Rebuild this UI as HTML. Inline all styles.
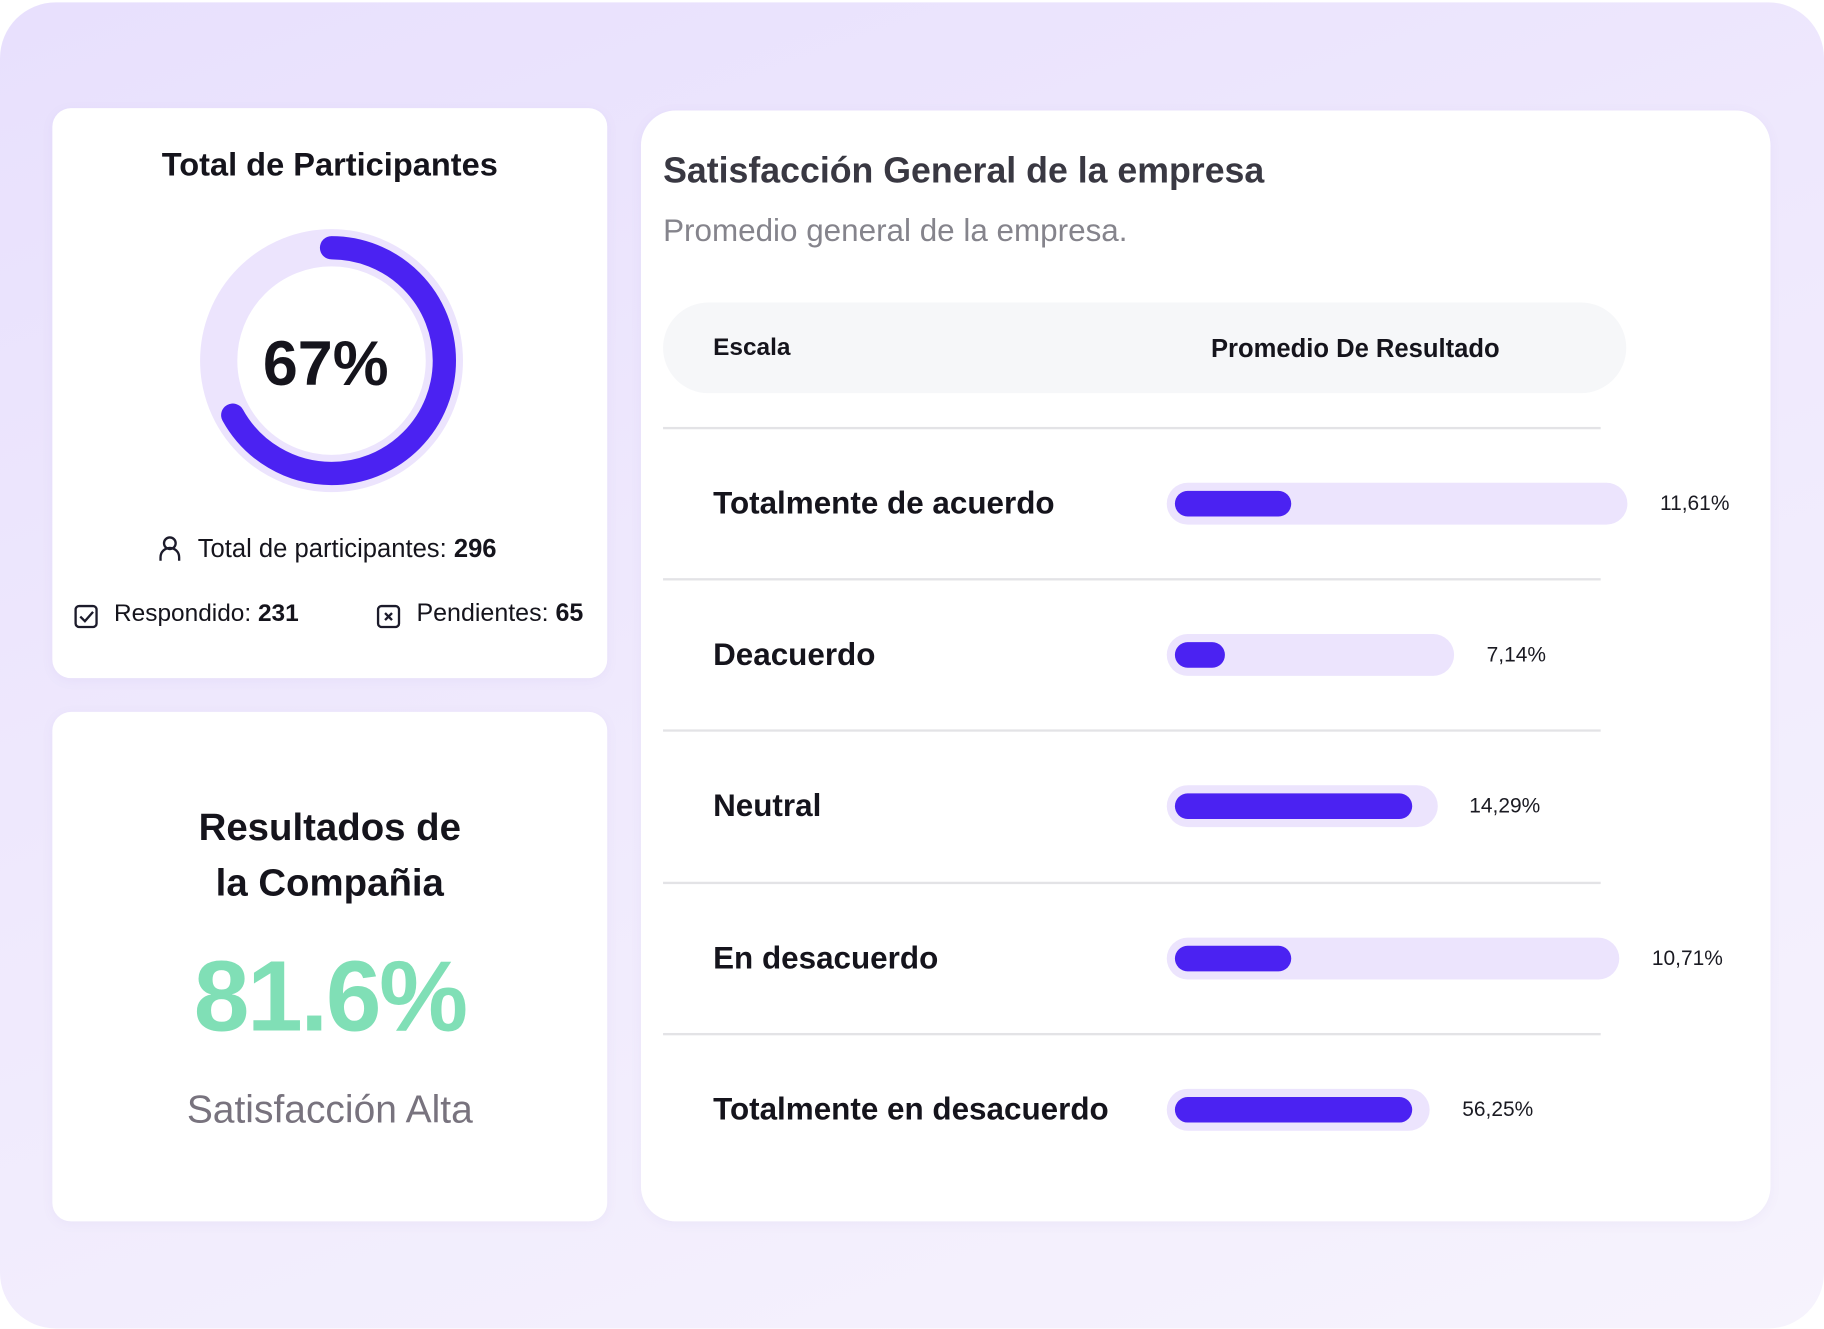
<!DOCTYPE html>
<html><head><meta charset="utf-8"><style>
html,body{margin:0;padding:0;background:#fff;width:1824px;height:1329px;overflow:hidden}
#w{position:absolute;left:0;top:0;width:1568px;height:1142px;transform:scale(1.16327);transform-origin:0 0;font-family:"Liberation Sans",sans-serif;color:#15141c}
.bg{position:absolute;left:0;top:2px;width:1568px;height:1140px;border-radius:48px;background:linear-gradient(160deg,#e8e0fd 0%,#efe9fd 45%,#f6f3fd 100%)}
.card{position:absolute;background:#fff;border-radius:16px;box-shadow:0 2px 10px rgba(120,100,180,0.06)}
.a{position:absolute;white-space:nowrap}
.b{font-weight:bold}
.line{position:absolute;left:570px;width:806px;height:2px;background:#e3e3e6}
.track{position:absolute;left:1003px;height:36px;border-radius:18px;background:#ece4fd}
.fill{position:absolute;left:1010px;height:22px;border-radius:11px;background:#4b22f2}
.lab{position:absolute;left:613px;font-size:27px;font-weight:bold;transform:translateY(-50%)}
.val{position:absolute;font-size:18px;transform:translateY(-50%);color:#1a1a22}
</style></head><body><div id="w">
<div class="bg"></div>
<div class="card" style="left:45px;top:93px;width:477px;height:490px"></div>
<div class="card" style="left:45px;top:612px;width:477px;height:438px"></div>
<div class="card" style="left:551px;top:95px;width:971px;height:955px;border-radius:30px"></div>

<div class="a b" style="left:45px;width:477px;text-align:center;top:126px;font-size:28px">Total de Participantes</div>
<svg class="a" style="left:0;top:0" width="570" height="600">
<circle cx="285" cy="310" r="97" fill="none" stroke="#ece4fd" stroke-width="32"/>
<circle cx="285" cy="310" r="97" fill="none" stroke="#4b22f2" stroke-width="20" stroke-linecap="round" stroke-dasharray="408 1000" transform="rotate(-90 285 310)"/>
<g fill="none" stroke="#1c1b2b" stroke-width="2">
<circle cx="146" cy="467" r="5"/><path d="M138 482v-3a8 8 0 0 1 16 0v3"/>
<rect x="65" y="521" width="18" height="18" rx="3"/><path d="M69 530l4 4 7-8"/>
<rect x="325" y="521" width="18" height="18" rx="3"/><path d="M331 527l6 6M337 527l-6 6"/>
</g></svg>
<div class="a b" style="left:180px;width:200px;text-align:center;top:282px;font-size:54px">67%</div>
<div class="a" style="left:170px;top:459px;font-size:22px">Total de participantes: <b>296</b></div>
<div class="a" style="left:98px;top:516px;font-size:21px">Respondido: <b>231</b></div>
<div class="a" style="left:358px;top:515px;font-size:21.5px">Pendientes: <b>65</b></div>

<div class="a b" style="left:45px;width:477px;text-align:center;top:687px;font-size:33px;line-height:48px;white-space:normal">Resultados de<br>la Compañia</div>
<div class="a b" style="left:45px;width:477px;text-align:center;top:808px;font-size:86px;color:#80dfb6;letter-spacing:-2px">81.6%</div>
<div class="a" style="left:45px;width:477px;text-align:center;top:936px;font-size:33.5px;color:#78737e">Satisfacción Alta</div>

<div class="a b" style="left:570px;top:129px;font-size:30.7px;color:#393842">Satisfacción General de la empresa</div>
<div class="a" style="left:570px;top:183px;font-size:27px;color:#85848c">Promedio general de la empresa.</div>
<div class="a" style="left:570px;top:260px;width:828px;height:78px;border-radius:39px;background:#f6f7f9"></div>
<div class="a b" style="left:613px;top:287px;font-size:21px">Escala</div>
<div class="a b" style="left:1041px;top:287px;font-size:22px">Promedio De Resultado</div>

<div class="line" style="top:367px"></div>
<div class="line" style="top:497px"></div>
<div class="line" style="top:627px"></div>
<div class="line" style="top:758px"></div>
<div class="line" style="top:888px"></div>

<div class="lab" style="top:433px">Totalmente de acuerdo</div>
<div class="track" style="top:415px;width:396px"></div><div class="fill" style="top:422px;width:100px"></div>
<div class="val" style="left:1427px;top:433px">11,61%</div>

<div class="lab" style="top:563px">Deacuerdo</div>
<div class="track" style="top:545px;width:247px"></div><div class="fill" style="top:552px;width:43px"></div>
<div class="val" style="left:1278px;top:563px">7,14%</div>

<div class="lab" style="top:693px">Neutral</div>
<div class="track" style="top:675px;width:233px"></div><div class="fill" style="top:682px;width:204px"></div>
<div class="val" style="left:1263px;top:693px">14,29%</div>

<div class="lab" style="top:824px">En desacuerdo</div>
<div class="track" style="top:806px;width:389px"></div><div class="fill" style="top:813px;width:100px"></div>
<div class="val" style="left:1420px;top:824px">10,71%</div>

<div class="lab" style="top:954px">Totalmente en desacuerdo</div>
<div class="track" style="top:936px;width:226px"></div><div class="fill" style="top:943px;width:204px"></div>
<div class="val" style="left:1257px;top:954px">56,25%</div>
</div></body></html>
